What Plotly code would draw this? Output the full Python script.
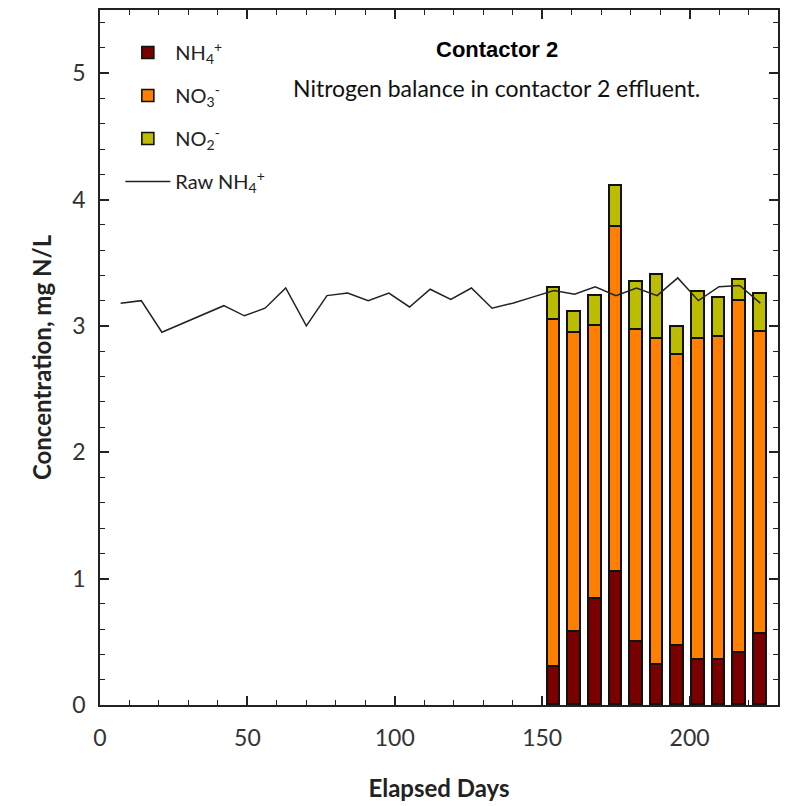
import plotly.graph_objects as go

# ---- data ----
bar_days = [154, 161, 168, 175, 182, 189, 196, 203, 210, 217, 224]
nh4 = [0.30, 0.58, 0.84, 1.05, 0.50, 0.32, 0.47, 0.36, 0.36, 0.41, 0.56]
no3 = [2.75, 2.36, 2.16, 2.73, 2.47, 2.58, 2.30, 2.54, 2.55, 2.79, 2.39]
no2 = [0.25, 0.17, 0.24, 0.33, 0.38, 0.50, 0.22, 0.37, 0.31, 0.16, 0.30]

raw_days = [7, 14, 21, 28, 35, 42, 49, 56, 63, 70, 77, 84, 91, 98, 105, 112,
            119, 126, 133, 140, 147, 154, 161, 168, 175, 182, 189, 196, 203,
            210, 217, 224]
raw_nh4 = [3.18, 3.20, 2.95, 3.02, 3.09, 3.16, 3.08, 3.14, 3.30, 3.00, 3.24,
           3.26, 3.20, 3.26, 3.15, 3.29, 3.21, 3.30, 3.14, 3.18, 3.23, 3.28,
           3.25, 3.31, 3.24, 3.30, 3.24, 3.38, 3.20, 3.31, 3.32, 3.18]

x_ticks = [0, 50, 100, 150, 200]
y_ticks = [0, 1, 2, 3, 4, 5]

names = ["NH<sub>4</sub><sup>+</sup>", "NO<sub>3</sub><sup>-</sup>",
         "NO<sub>2</sub><sup>-</sup>", "Raw NH<sub>4</sub><sup>+</sup>"]
colors = ["#7A0000", "#FF8000", "#BDBD00"]

BODY = "Lato, 'Open Sans', sans-serif"

fig = go.Figure()
for i, vals in enumerate([nh4, no3, no2]):
    fig.add_trace(go.Bar(
        x=bar_days, y=vals, name=names[i], width=4.3,
        marker=dict(color=colors[i], line=dict(color="#111", width=1.6)),
        legendgroup=f"g{i}",
    ))
fig.add_trace(go.Scatter(
    x=raw_days, y=raw_nh4, mode="lines", name=names[3],
    line=dict(color="#222", width=1.5), legendgroup="g3",
))

axis_common = dict(
    showline=True, linecolor="#222", linewidth=1.5, mirror="allticks",
    ticks="inside", ticklen=9, tickwidth=1.5, tickcolor="#222",
    showgrid=False, zeroline=False,
    tickfont=dict(family=BODY, size=23, color="#333"),
)

fig.update_layout(
    width=789, height=806,
    margin=dict(l=100, r=11, t=8, b=101),
    plot_bgcolor="white", paper_bgcolor="white",
    barmode="stack", bargap=0,
    showlegend=True,
    legend=dict(
        x=0.03, y=0.967, xanchor="left", yanchor="top",
        traceorder="grouped", tracegroupgap=14, itemwidth=45,
        font=dict(family=BODY, size=20, color="#222"),
        bgcolor="rgba(0,0,0,0)",
    ),
    xaxis=dict(
        range=[0, 230], tickvals=x_ticks, ticklabelstandoff=12,
        minor=dict(dtick=10, ticklen=5, tickwidth=1, tickcolor="#222", ticks="inside"),
        title=dict(text="<b>Elapsed Days</b>", standoff=30,
                   font=dict(family=BODY, size=24, color="#222")),
        **axis_common,
    ),
    yaxis=dict(
        range=[0, 5.5], tickvals=y_ticks, ticklabelstandoff=8,
        minor=dict(dtick=0.2, ticklen=5, tickwidth=1, tickcolor="#222", ticks="inside"),
        title=dict(text="<b>Concentration, mg N/L</b>", standoff=14,
                   font=dict(family=BODY, size=24, color="#222")),
        **axis_common,
    ),
    annotations=[
        dict(text="<b>Contactor 2</b>", x=0.5855, y=0.943, xref="paper", yref="paper",
             xanchor="center", yanchor="middle", showarrow=False,
             font=dict(family="Liberation Sans, Arial", size=22, color="#000")),
        dict(text="Nitrogen balance in contactor 2 effluent.", x=0.5855, y=0.888,
             xref="paper", yref="paper", xanchor="center", yanchor="middle",
             showarrow=False, font=dict(family=BODY, size=23, color="#111")),
    ],
)

fig.write_html("out.html")
